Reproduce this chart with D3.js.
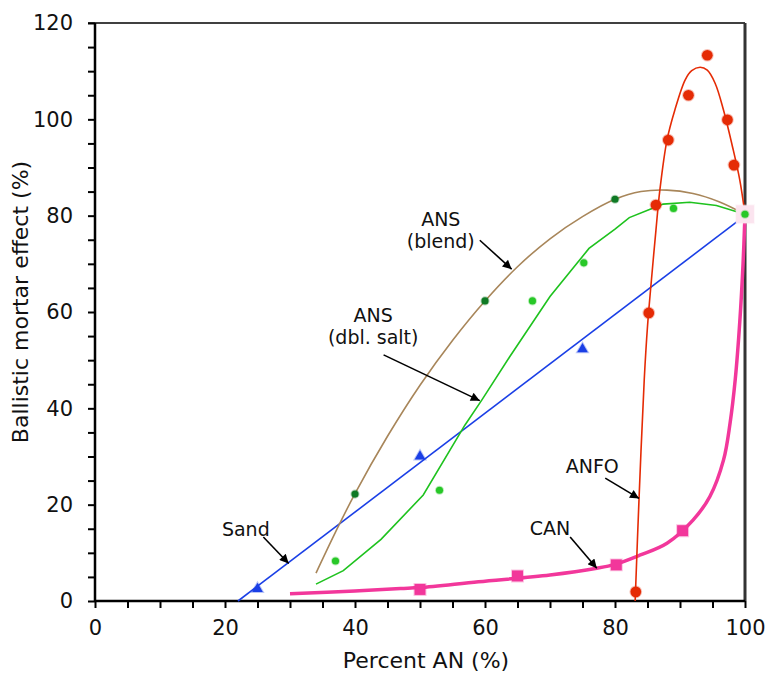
<!DOCTYPE html>
<html>
<head>
<meta charset="utf-8">
<script src="https://cdn.jsdelivr.net/npm/d3@7"></script>
<style>
  body { margin: 0; background: #fff; }
  svg text { font-family: "DejaVu Sans", Verdana, sans-serif; fill: #111; }
</style>
</head>
<body>
<svg id="chart" width="767" height="673"></svg>
<script>
// measured points
let sandX = [25, 50, 75],
    sandY = [2.5, 30, 52.3],
    sandFitX = [22, 100],
    sandFitY = [0, 80];

let blendX = [40, 60, 80],
    blendY = [22.2, 62.3, 83.4],
    blendFitX = [34, 37, 40, 45, 50, 55, 60, 65, 70, 75, 80, 84, 88, 92, 96, 100],
    blendFitY = [5.8, 14.3, 22.3, 34.2, 44.8, 54.1, 62.3, 69.4, 75.2, 79.8, 83.4, 85, 85.3, 84.6, 82.9, 80.3];

let dblX = [37, 53, 67.3, 75.2, 89, 100],
    dblY = [8.3, 23, 62.3, 70.2, 81.5, 80.3],
    dblFitX = [34, 38.2, 44, 50.5, 56.9, 59.5, 63.8, 70, 76, 80, 82.2, 85.5, 87.4, 91.5, 95.6, 100],
    dblFitY = [3.5, 6.3, 12.8, 22, 36.5, 41.7, 50.7, 63.2, 73.2, 77.2, 79.6, 81.4, 82.4, 82.8, 82.1, 80.3];

let anfoX = [83.2, 85.2, 86.3, 88.2, 91.3, 94.2, 97.3, 98.3],
    anfoY = [1.9, 59.8, 82.2, 95.7, 105, 113.3, 99.9, 90.5],
    anfoFitX = [83.1, 83.7, 84.5, 85, 85.6, 86.3, 86.9, 88, 89.2, 90.8, 91.8, 93.1, 94.2, 95.4, 96.7, 98.2, 99.2, 100],
    anfoFitY = [0, 21.3, 46, 57, 66.6, 77, 85.3, 95.7, 101.9, 108.2, 110.1, 110.8, 110.2, 107.5, 101.9, 93.6, 87.4, 80.3];

let canX = [50, 65, 80.2, 90.4],
    canY = [2.4, 5.2, 7.5, 14.6],
    canFitX = [30, 40, 47, 50, 59, 70, 77.2, 80, 83.8, 88, 92, 94.6, 96.7, 97.7, 98.5, 99.2, 99.7, 100],
    canFitY = [1.5, 2.1, 2.6, 2.8, 4, 5.4, 6.8, 7.6, 9.5, 12, 16.8, 21.7, 29.3, 36.9, 46, 58, 70, 80.3];

// shared end point at 100 % AN
let endX = [100],
    endY = [80.3];

let xTicks = [0, 20, 40, 60, 80, 100],
    yTicks = [0, 20, 40, 60, 80, 100, 120];

// callouts in data units: label lines, text anchor, arrow start and end
let notes = [
    {lines: ['ANS', '(blend)'], tx: 53.2, ty: 77.9, from: [59.2, 74.9], to: [64.1, 68.9]},
    {lines: ['ANS', '(dbl. salt)'], tx: 42.8, ty: 57.9, from: [44.4, 51.1], to: [59.2, 41.6]},
    {lines: ['Sand'], tx: 23.2, ty: 13.5, from: [25.9, 13.3], to: [29.8, 7.8]},
    {lines: ['ANFO'], tx: 76.5, ty: 26.5, from: [78.5, 25.5], to: [83.7, 21.3]},
    {lines: ['CAN'], tx: 70, ty: 13.7, from: [73.1, 13.3], to: [77.2, 6.8]}
];

let margin = {top: 23, right: 22, bottom: 72, left: 95},
    width = 767 - margin.left - margin.right,
    height = 673 - margin.top - margin.bottom;

let svg = d3.select('#chart');

svg.append('defs').append('marker')
    .attr('id', 'head')
    .attr('viewBox', '0 0 10 10')
    .attr('refX', 10).attr('refY', 5)
    .attr('markerWidth', 12).attr('markerHeight', 9)
    .attr('markerUnits', 'userSpaceOnUse')
    .attr('orient', 'auto')
    .append('path')
    .attr('d', 'M0,0 L10,5 L0,10 Z')
    .attr('fill', '#000');

let g = svg.append('g').attr('transform', `translate(${margin.left},${margin.top})`);

let x = d3.scaleLinear().domain([0, 100]).range([0, width]),
    y = d3.scaleLinear().domain([0, 120]).range([height, 0]);

let zip = (xs, ys) => xs.map((v, i) => [v, ys[i]]);

// frame: top and right
g.append('line').attr('x1', -7).attr('x2', width).attr('y1', 0).attr('y2', 0)
    .attr('stroke', '#000').attr('stroke-width', 1.5);
g.append('line').attr('x1', width).attr('x2', width).attr('y1', 0).attr('y2', height)
    .attr('stroke', '#333').attr('stroke-width', 3);

// axes
let xAxis = g.append('g').attr('transform', `translate(0,${height})`)
    .call(d3.axisBottom(x).tickValues(d3.range(0, 101, 5)).tickSize(7)
        .tickFormat(d => xTicks.includes(d) ? d : ''));
let yAxis = g.append('g')
    .call(d3.axisLeft(y).tickValues(d3.range(0, 121, 5)).tickSize(7)
        .tickFormat(d => yTicks.includes(d) ? d : ''));

[xAxis, yAxis].forEach(a => {
    a.select('.domain').attr('stroke', '#000').attr('stroke-width', 2.5);
    a.selectAll('.tick line').attr('stroke', '#000').attr('stroke-width', 2);
    a.selectAll('.tick text').attr('font-size', 21).attr('font-family', '"DejaVu Sans", sans-serif').attr('fill', '#111');
});
xAxis.select('.domain').attr('d', `M0,0H${width}`);
yAxis.select('.domain').attr('d', `M0,0V${height}`);
xAxis.selectAll('.tick text').attr('dy', '1.15em');
yAxis.selectAll('.tick text').attr('x', -22);

// axis titles
svg.append('text')
    .attr('x', margin.left + width / 2 + 6).attr('y', 668)
    .attr('text-anchor', 'middle').attr('font-size', 22)
    .text('Percent AN (%)');
svg.append('text')
    .attr('transform', `translate(28,${margin.top + height / 2 - 10}) rotate(-90)`)
    .attr('text-anchor', 'middle').attr('font-size', 22)
    .text('Ballistic mortar effect (%)');

// fitted curves
let line = d3.line().x(d => x(d[0])).y(d => y(d[1]));

g.append('path').datum(zip(sandFitX, sandFitY))
    .attr('d', line).attr('fill', 'none').attr('stroke', '#1a3fe6').attr('stroke-width', 1.6);
g.append('path').datum(zip(blendFitX, blendFitY))
    .attr('d', line.curve(d3.curveCatmullRom)).attr('fill', 'none').attr('stroke', '#a8865a').attr('stroke-width', 1.6);
g.append('path').datum(zip(dblFitX, dblFitY))
    .attr('d', line.curve(d3.curveLinear)).attr('fill', 'none').attr('stroke', '#1ec21e').attr('stroke-width', 1.6);
g.append('path').datum(zip(canFitX, canFitY))
    .attr('d', line.curve(d3.curveCatmullRom)).attr('fill', 'none').attr('stroke', '#f2379b').attr('stroke-width', 3.5);
g.append('path').datum(zip(anfoFitX, anfoFitY))
    .attr('d', line.curve(d3.curveCatmullRom)).attr('fill', 'none').attr('stroke', '#e52b05').attr('stroke-width', 1.6);

// point markers
let dots = (xs, ys, type, size, color) => {
    g.append('g').selectAll('path')
        .data(zip(xs, ys))
        .enter()
        .append('path')
        .attr('transform', d => `translate(${x(d[0])},${y(d[1])})`)
        .attr('d', d3.symbol().type(type).size(size))
        .attr('fill', color)
        .attr('stroke', color).attr('stroke-opacity', 0.3).attr('stroke-width', 2);
};

dots(endX, endY, d3.symbolSquare, 320, '#fbe4ef');
dots(sandX, sandY, d3.symbolTriangle, 50, '#1a3fe6');
dots(canX, canY, d3.symbolSquare, 120, '#f2379b');
dots(anfoX, anfoY, d3.symbolCircle, 90, '#e52b05');
dots(blendX, blendY, d3.symbolCircle, 40, '#0f7a25');
dots(dblX, dblY, d3.symbolCircle, 40, '#28c828');

// callouts
let notesG = g.append('g');
notes.forEach(n => {
    let t = notesG.append('text')
        .attr('x', x(n.tx)).attr('y', y(n.ty))
        .attr('text-anchor', 'middle').attr('font-size', 19);
    n.lines.forEach((s, i) => {
        t.append('tspan').attr('x', x(n.tx)).attr('dy', i ? 22 : 0).text(s);
    });
    notesG.append('line')
        .attr('x1', x(n.from[0])).attr('y1', y(n.from[1]))
        .attr('x2', x(n.to[0])).attr('y2', y(n.to[1]))
        .attr('stroke', '#000').attr('stroke-width', 1.6)
        .attr('marker-end', 'url(#head)');
});
</script>
</body>
</html>
